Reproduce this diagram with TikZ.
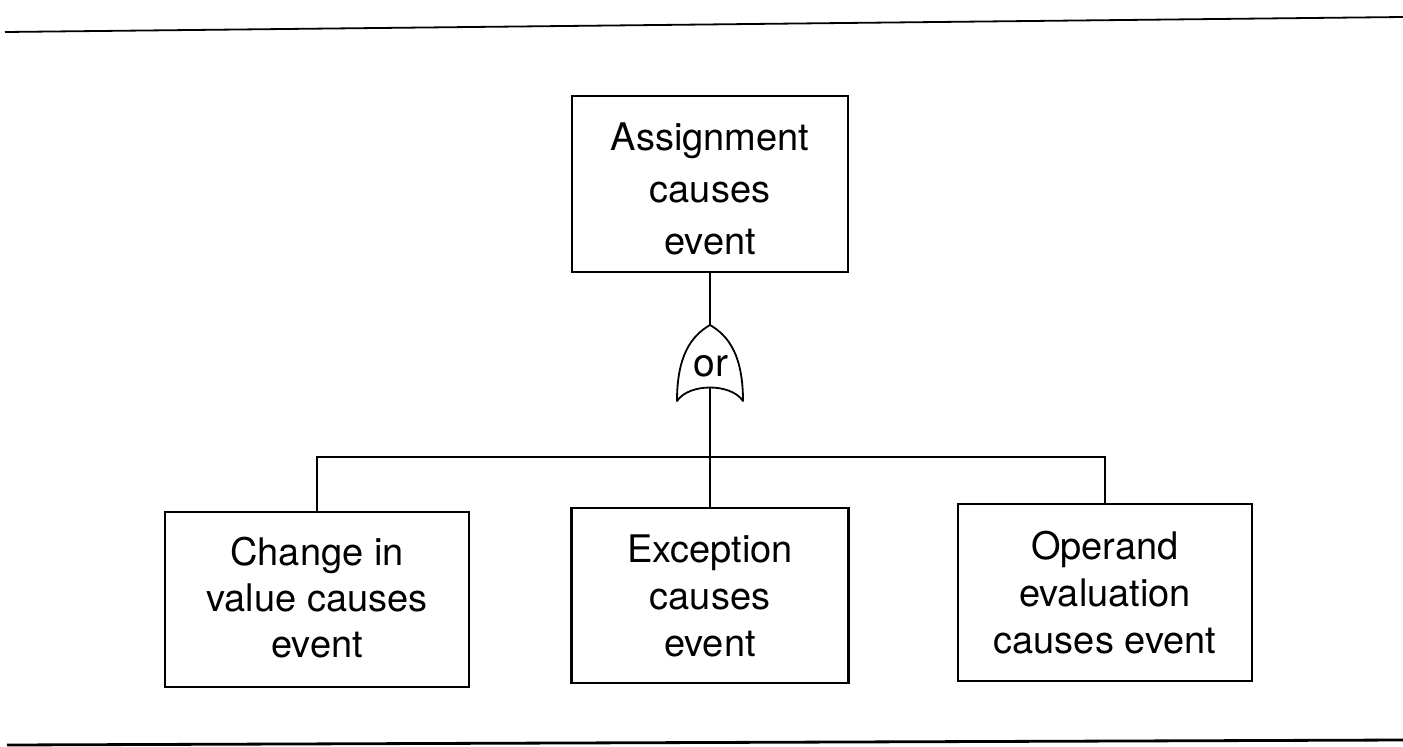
\documentclass[tikz,border=0pt]{standalone}
\usepackage{fontspec}
\setmainfont{TeX Gyre Heros}
\begin{document}
\begin{tikzpicture}[x=1pt,y=-1pt,
  box/.style={draw,line width=2.2pt,inner sep=0pt,align=center,
    font=\fontsize{38}{48}\selectfont},
  conn/.style={line width=1.8pt},
  rule/.style={line width=2.4pt}]
\useasboundingbox (0,0) rectangle (1403,747);
% page rules
\coordinate (tl) at (5,32);
\coordinate (tr) at (1403,17);
\coordinate (bl) at (7,745);
\coordinate (br) at (1403,740);
\draw[rule,line width=1.8pt] (tl) -- (tr);
\draw[rule,line width=2.8pt] (bl) -- (br);
% boxes
\node[box,minimum width=276pt,minimum height=176pt] (top) at (710,184) {};
\node[box,minimum width=304pt,minimum height=175pt] (left) at (317,599.5) {};
\node[box,minimum width=277pt,minimum height=175pt] (mid) at (710,595.5) {};
\node[box,minimum width=294pt,minimum height=177pt] (right) at (1105,592.5) {};
\node[align=center,inner sep=0pt,font=\fontsize{38}{52}\selectfont] (toptext) at ([yshift=-5pt]top.center) {Assignment\\causes\\event};
\node[align=center,inner sep=0pt,font=\fontsize{38}{46}\selectfont] (lefttext) at ([yshift=2pt]left.center) {Change in\\value causes\\event};
\node[align=center,inner sep=0pt,font=\fontsize{38}{47}\selectfont] (midtext) at (mid.center) {Exception\\causes\\event};
\node[align=center,inner sep=0pt,font=\fontsize{38}{47}\selectfont] (righttext) at (right.center) {Operand\\evaluation\\causes event};
% or gate
\coordinate (gtop) at (710,325);
\coordinate (gbot) at (710,387);
\coordinate (junc) at (710,457);
\draw[conn,line join=round] (gtop) .. controls (691,336) and (677,356) .. (677,401)
  .. controls (689,383) and (731,383) .. (743,401)
  .. controls (743,356) and (729,336) .. (gtop);
\node[font=\fontsize{39}{48}\selectfont,inner sep=0pt] (or) at (711,366) {or};
% connectors
\draw[conn] (top.south) -- (gtop);
\draw[conn] (gbot) -- (junc);
\draw[conn] (left.north) |- (junc) -| (right.north);
\draw[conn] (junc) -- (mid.north);
\end{tikzpicture}
\end{document}
